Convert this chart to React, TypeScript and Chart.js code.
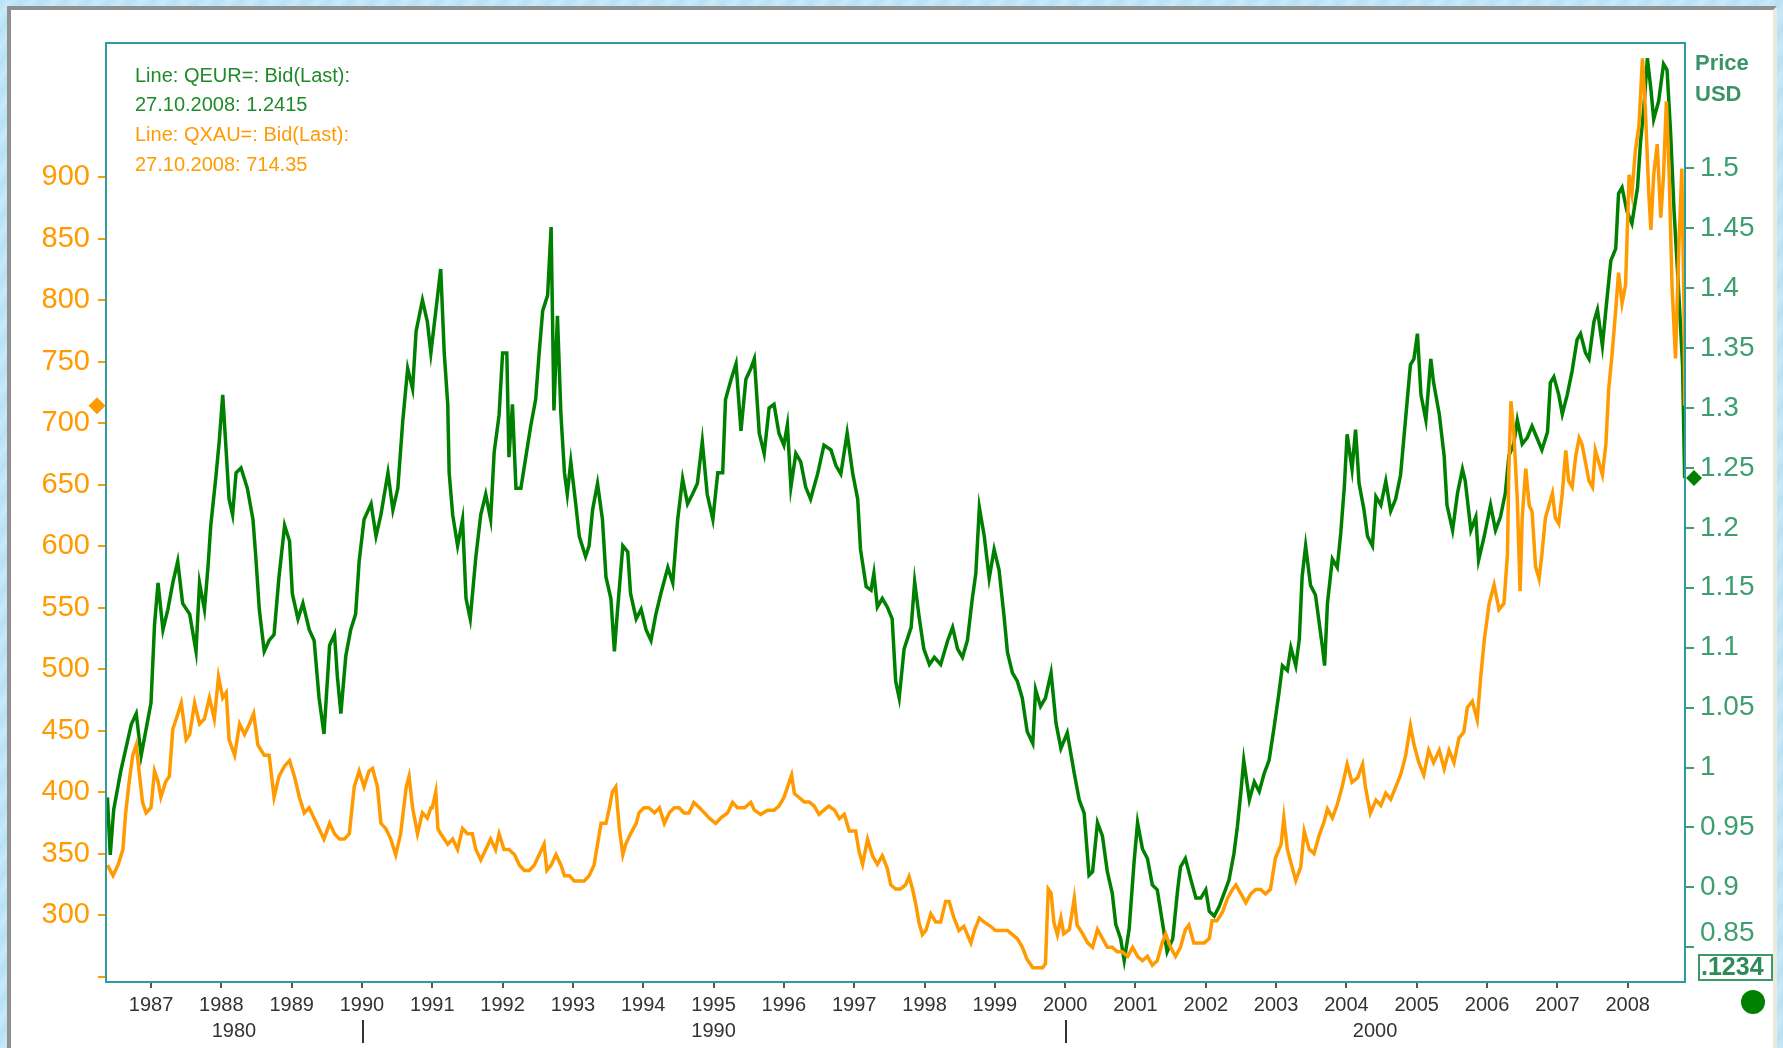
import React, { useEffect, useRef } from 'react';
import { Chart, registerables } from 'chart.js';

Chart.register(...registerables);

// ---------------- data ----------------
const yearTicks = [1987, 1988, 1989, 1990, 1991, 1992, 1993, 1994, 1995, 1996, 1997, 1998, 1999, 2000, 2001, 2002, 2003, 2004, 2005, 2006, 2007, 2008];
const decadeLabels = ['1980', '1990', '2000'];
const decadeStarts = [1980, 1990, 2000];
const goldTicks = [250, 300, 350, 400, 450, 500, 550, 600, 650, 700, 750, 800, 850, 900];
const eurTicks = [0.85, 0.9, 0.95, 1, 1.05, 1.1, 1.15, 1.2, 1.25, 1.3, 1.35, 1.4, 1.45, 1.5];
const legendLines = ['Line: QEUR=: Bid(Last):', '27.10.2008: 1.2415', 'Line: QXAU=: Bid(Last):', '27.10.2008: 714.35'];
const lastEur = 1.2415;
const lastGold = 714.35;

// QEUR= (ECU before 1999), [decimal year, USD]
const eurSeries: [number, number][] = [
  [1986.38, 0.975], [1986.42, 0.927], [1986.47, 0.965], [1986.57, 0.997], [1986.72, 1.036], [1986.79, 1.045], [1986.86, 1.010],
  [1987.00, 1.054], [1987.05, 1.119], [1987.10, 1.154], [1987.17, 1.115], [1987.24, 1.132], [1987.31, 1.154], [1987.38, 1.172], [1987.45, 1.137],
  [1987.55, 1.128], [1987.64, 1.097], [1987.69, 1.154], [1987.76, 1.132], [1987.81, 1.167], [1987.85, 1.202], [1987.92, 1.241], [1987.97, 1.272],
  [1988.02, 1.311], [1988.07, 1.263], [1988.11, 1.224], [1988.16, 1.211], [1988.21, 1.246], [1988.28, 1.250], [1988.37, 1.233], [1988.45, 1.207],
  [1988.49, 1.176], [1988.54, 1.132], [1988.61, 1.097], [1988.68, 1.106], [1988.75, 1.111], [1988.82, 1.159], [1988.90, 1.202], [1988.97, 1.189],
  [1989.01, 1.145], [1989.09, 1.124], [1989.16, 1.137], [1989.25, 1.115], [1989.32, 1.106], [1989.39, 1.058], [1989.46, 1.028], [1989.54, 1.102],
  [1989.61, 1.111], [1989.65, 1.076], [1989.70, 1.045], [1989.77, 1.093], [1989.84, 1.115], [1989.91, 1.128], [1989.96, 1.172],
  [1990.03, 1.207], [1990.13, 1.220], [1990.20, 1.193], [1990.27, 1.211], [1990.37, 1.246], [1990.44, 1.215], [1990.51, 1.233], [1990.58, 1.289],
  [1990.65, 1.333], [1990.72, 1.316], [1990.77, 1.364], [1990.86, 1.390], [1990.93, 1.372], [1990.98, 1.346],
  [1991.05, 1.381], [1991.12, 1.416], [1991.17, 1.346], [1991.22, 1.303], [1991.24, 1.246], [1991.29, 1.211], [1991.36, 1.185], [1991.43, 1.207],
  [1991.48, 1.141], [1991.54, 1.124], [1991.62, 1.176], [1991.69, 1.211], [1991.76, 1.228], [1991.83, 1.207], [1991.88, 1.263], [1991.95, 1.294],
  [1992.00, 1.346], [1992.06, 1.346], [1992.09, 1.259], [1992.14, 1.303], [1992.19, 1.233], [1992.26, 1.233], [1992.33, 1.259], [1992.40, 1.285],
  [1992.47, 1.307], [1992.52, 1.346], [1992.57, 1.381], [1992.64, 1.394], [1992.69, 1.451], [1992.73, 1.298], [1992.78, 1.377], [1992.83, 1.294],
  [1992.88, 1.246], [1992.92, 1.228], [1992.97, 1.255],
  [1993.04, 1.220], [1993.09, 1.193], [1993.18, 1.176], [1993.23, 1.185], [1993.28, 1.215], [1993.35, 1.237], [1993.42, 1.207], [1993.47, 1.159],
  [1993.54, 1.141], [1993.59, 1.097], [1993.63, 1.128], [1993.71, 1.185], [1993.78, 1.180], [1993.82, 1.145], [1993.90, 1.124], [1993.97, 1.132],
  [1994.04, 1.115], [1994.11, 1.106], [1994.18, 1.128], [1994.25, 1.145], [1994.35, 1.167], [1994.42, 1.154], [1994.49, 1.207], [1994.56, 1.241],
  [1994.63, 1.220], [1994.70, 1.228], [1994.77, 1.237], [1994.84, 1.272], [1994.91, 1.228], [1994.99, 1.207],
  [1995.06, 1.246], [1995.13, 1.246], [1995.17, 1.307], [1995.25, 1.324], [1995.32, 1.337], [1995.39, 1.281], [1995.46, 1.324], [1995.53, 1.333],
  [1995.58, 1.341], [1995.65, 1.279], [1995.72, 1.262], [1995.79, 1.300], [1995.86, 1.303], [1995.93, 1.279],
  [1996.00, 1.269], [1996.05, 1.286], [1996.10, 1.234], [1996.17, 1.262], [1996.24, 1.255], [1996.31, 1.234], [1996.38, 1.224], [1996.48, 1.245],
  [1996.57, 1.269], [1996.67, 1.265], [1996.74, 1.252], [1996.81, 1.245], [1996.90, 1.279], [1996.98, 1.245],
  [1997.05, 1.224], [1997.09, 1.182], [1997.17, 1.151], [1997.24, 1.148], [1997.28, 1.162], [1997.33, 1.134], [1997.40, 1.141], [1997.47, 1.134],
  [1997.54, 1.124], [1997.59, 1.072], [1997.64, 1.058], [1997.71, 1.099], [1997.81, 1.117], [1997.86, 1.155], [1997.92, 1.127], [1997.99, 1.099],
  [1998.07, 1.086], [1998.14, 1.092], [1998.23, 1.086], [1998.33, 1.106], [1998.40, 1.117], [1998.47, 1.099], [1998.54, 1.092], [1998.61, 1.106],
  [1998.68, 1.141], [1998.73, 1.162], [1998.78, 1.217], [1998.85, 1.193], [1998.92, 1.158], [1998.99, 1.182],
  [1999.06, 1.165], [1999.13, 1.127], [1999.18, 1.096], [1999.25, 1.079], [1999.32, 1.072], [1999.39, 1.058], [1999.46, 1.030], [1999.54, 1.020],
  [1999.58, 1.065], [1999.65, 1.051], [1999.72, 1.058], [1999.80, 1.079], [1999.87, 1.037], [1999.94, 1.016],
  [2000.03, 1.029], [2000.13, 0.995], [2000.20, 0.973], [2000.27, 0.962], [2000.34, 0.910], [2000.39, 0.913], [2000.46, 0.954], [2000.53, 0.943],
  [2000.60, 0.913], [2000.67, 0.895], [2000.72, 0.869], [2000.79, 0.857], [2000.84, 0.839], [2000.91, 0.865], [2000.98, 0.921],
  [2001.03, 0.954], [2001.10, 0.932], [2001.17, 0.924], [2001.24, 0.902], [2001.31, 0.898], [2001.38, 0.872], [2001.45, 0.846], [2001.53, 0.857],
  [2001.60, 0.898], [2001.64, 0.917], [2001.71, 0.924], [2001.79, 0.906], [2001.86, 0.891], [2001.93, 0.891],
  [2002.00, 0.898], [2002.05, 0.880], [2002.12, 0.876], [2002.19, 0.884], [2002.26, 0.895], [2002.33, 0.906], [2002.40, 0.928], [2002.45, 0.951],
  [2002.50, 0.980], [2002.54, 1.006], [2002.62, 0.973], [2002.69, 0.988], [2002.76, 0.980], [2002.83, 0.995], [2002.90, 1.006], [2002.97, 1.033],
  [2003.04, 1.062], [2003.09, 1.085], [2003.16, 1.081], [2003.21, 1.100], [2003.28, 1.085], [2003.33, 1.107], [2003.37, 1.159], [2003.42, 1.185],
  [2003.49, 1.152], [2003.56, 1.144], [2003.61, 1.122], [2003.66, 1.100], [2003.69, 1.085], [2003.73, 1.137], [2003.80, 1.174], [2003.87, 1.167],
  [2003.92, 1.196], [2003.97, 1.234],
  [2004.01, 1.278], [2004.08, 1.249], [2004.13, 1.282], [2004.18, 1.237], [2004.25, 1.215], [2004.30, 1.193], [2004.37, 1.185], [2004.42, 1.226],
  [2004.49, 1.219], [2004.56, 1.239], [2004.63, 1.214], [2004.70, 1.224], [2004.77, 1.244], [2004.84, 1.290], [2004.91, 1.336], [2004.96, 1.341],
  [2005.01, 1.362], [2005.06, 1.311], [2005.13, 1.290], [2005.20, 1.341], [2005.24, 1.321], [2005.32, 1.295], [2005.39, 1.260], [2005.43, 1.219],
  [2005.51, 1.198], [2005.58, 1.229], [2005.65, 1.249], [2005.69, 1.239], [2005.77, 1.198], [2005.84, 1.209], [2005.88, 1.173], [2005.96, 1.193],
  [2006.05, 1.219], [2006.12, 1.198], [2006.19, 1.209], [2006.26, 1.229], [2006.31, 1.260], [2006.38, 1.270], [2006.43, 1.290], [2006.50, 1.270],
  [2006.57, 1.275], [2006.64, 1.285], [2006.71, 1.275], [2006.78, 1.265], [2006.86, 1.280], [2006.90, 1.321], [2006.95, 1.326],
  [2007.02, 1.311], [2007.07, 1.295], [2007.14, 1.311], [2007.21, 1.331], [2007.28, 1.357], [2007.33, 1.362], [2007.40, 1.346], [2007.45, 1.341],
  [2007.52, 1.372], [2007.57, 1.382], [2007.64, 1.352], [2007.69, 1.382], [2007.76, 1.423], [2007.83, 1.433], [2007.87, 1.479], [2007.92, 1.484],
  [2007.99, 1.464], [2008.06, 1.454], [2008.14, 1.484], [2008.18, 1.520], [2008.23, 1.551], [2008.28, 1.592], [2008.33, 1.566], [2008.37, 1.541],
  [2008.44, 1.556], [2008.51, 1.587], [2008.56, 1.582], [2008.61, 1.530], [2008.66, 1.464], [2008.73, 1.392], [2008.78, 1.336], [2008.81, 1.2415],
];

// QXAU= gold, [decimal year, USD/oz]
const goldSeries: [number, number][] = [
  [1986.38, 340.8], [1986.46, 332.3], [1986.53, 340.8], [1986.60, 353.5], [1986.64, 383.3], [1986.69, 408.8], [1986.74, 430.1], [1986.79, 438.6],
  [1986.83, 417.3], [1986.88, 391.8], [1986.93, 383.3],
  [1987.00, 387.5], [1987.05, 417.3], [1987.10, 408.8], [1987.14, 396.0], [1987.21, 408.8], [1987.26, 413.0], [1987.31, 451.3], [1987.36, 459.8],
  [1987.43, 472.6], [1987.50, 442.8], [1987.55, 447.1], [1987.62, 472.6], [1987.69, 455.6], [1987.76, 459.8], [1987.83, 476.8], [1987.90, 459.8],
  [1987.96, 493.9],
  [1988.02, 476.8], [1988.07, 481.1], [1988.11, 442.8], [1988.19, 430.1], [1988.26, 455.6], [1988.33, 447.1], [1988.40, 455.6], [1988.46, 464.1],
  [1988.52, 438.6], [1988.61, 430.1], [1988.68, 430.1], [1988.75, 396.0], [1988.82, 413.0], [1988.90, 421.5], [1988.97, 425.8],
  [1989.04, 413.0], [1989.11, 396.0], [1989.18, 383.3], [1989.25, 387.5], [1989.32, 379.0], [1989.39, 370.5], [1989.46, 362.0], [1989.54, 374.8],
  [1989.61, 366.3], [1989.68, 362.0], [1989.75, 362.0], [1989.82, 366.3], [1989.89, 404.5], [1989.96, 417.3],
  [1990.03, 404.5], [1990.10, 417.3], [1990.15, 419.4], [1990.22, 404.5], [1990.27, 374.8], [1990.34, 370.5], [1990.41, 362.0], [1990.48, 349.2],
  [1990.55, 366.3], [1990.63, 404.5], [1990.67, 413.0], [1990.72, 387.5], [1990.79, 366.3], [1990.86, 383.3], [1990.93, 379.0], [1990.98, 387.5],
  [1991.00, 387.5], [1991.05, 400.3], [1991.08, 370.5], [1991.12, 366.3], [1991.17, 362.0], [1991.22, 357.8], [1991.29, 362.0], [1991.36, 353.5],
  [1991.43, 370.5], [1991.50, 366.3], [1991.57, 366.3], [1991.62, 353.5], [1991.69, 345.0], [1991.76, 353.5], [1991.83, 362.0], [1991.90, 353.5],
  [1991.95, 366.3],
  [1992.02, 353.5], [1992.09, 353.5], [1992.17, 349.3], [1992.24, 340.8], [1992.31, 336.5], [1992.38, 336.5], [1992.45, 340.8], [1992.52, 349.3],
  [1992.59, 357.8], [1992.63, 336.5], [1992.69, 340.8], [1992.76, 349.3], [1992.83, 340.8], [1992.88, 332.2], [1992.95, 332.2],
  [1993.02, 328.0], [1993.09, 328.0], [1993.16, 328.0], [1993.23, 332.2], [1993.30, 340.8], [1993.35, 357.8], [1993.40, 374.8], [1993.47, 374.8],
  [1993.52, 387.5], [1993.56, 400.3], [1993.61, 404.5], [1993.66, 370.5], [1993.71, 349.3], [1993.75, 357.8], [1993.82, 366.3], [1993.90, 374.8],
  [1993.94, 383.3],
  [1994.01, 387.5], [1994.08, 387.5], [1994.16, 383.3], [1994.23, 387.5], [1994.30, 374.8], [1994.37, 383.3], [1994.44, 387.5], [1994.51, 387.5],
  [1994.58, 383.3], [1994.65, 383.3], [1994.72, 391.8], [1994.80, 387.5], [1994.87, 383.3], [1994.94, 379.0],
  [1995.03, 374.8], [1995.10, 379.0], [1995.20, 383.3], [1995.27, 391.8], [1995.34, 387.5], [1995.44, 387.5], [1995.53, 391.8], [1995.58, 385.5],
  [1995.67, 382.1], [1995.77, 385.5], [1995.86, 385.5], [1995.93, 388.9],
  [1996.00, 395.6], [1996.08, 409.1], [1996.11, 414.1], [1996.15, 399.0], [1996.22, 395.6], [1996.29, 392.2], [1996.36, 392.2], [1996.43, 388.9],
  [1996.50, 382.1], [1996.57, 385.5], [1996.64, 388.9], [1996.72, 385.5], [1996.79, 378.7], [1996.86, 382.1], [1996.93, 368.6],
  [1997.02, 368.6], [1997.07, 351.8], [1997.12, 341.6], [1997.19, 361.9], [1997.26, 348.4], [1997.33, 341.6], [1997.40, 348.4], [1997.47, 338.3],
  [1997.52, 324.8], [1997.59, 321.4], [1997.66, 321.4], [1997.73, 324.8], [1997.78, 331.5], [1997.83, 321.4], [1997.88, 307.9], [1997.92, 294.5],
  [1997.97, 284.3],
  [1998.02, 287.7], [1998.09, 301.2], [1998.16, 294.5], [1998.23, 294.5], [1998.30, 311.3], [1998.35, 311.3], [1998.42, 297.8], [1998.49, 287.7],
  [1998.56, 291.1], [1998.66, 277.6], [1998.71, 287.7], [1998.78, 297.8], [1998.85, 294.5], [1998.94, 291.1],
  [1999.01, 287.7], [1999.09, 287.7], [1999.18, 287.7], [1999.25, 284.3], [1999.32, 281.0], [1999.39, 274.2], [1999.46, 264.1], [1999.54, 257.4],
  [1999.61, 257.4], [1999.68, 257.4], [1999.72, 260.7], [1999.76, 321.4], [1999.80, 318.1], [1999.84, 294.5], [1999.89, 284.3], [1999.94, 297.8],
  [1999.98, 284.9],
  [2000.06, 288.5], [2000.13, 313.9], [2000.17, 292.1], [2000.25, 284.9], [2000.32, 277.6], [2000.39, 274.0], [2000.46, 288.5], [2000.53, 281.2],
  [2000.60, 274.0], [2000.67, 274.0], [2000.74, 270.3], [2000.81, 270.3], [2000.89, 266.7], [2000.96, 274.0],
  [2001.03, 266.7], [2001.10, 263.1], [2001.17, 266.7], [2001.24, 259.4], [2001.31, 263.1], [2001.38, 277.6], [2001.43, 284.9], [2001.50, 274.0],
  [2001.57, 266.7], [2001.64, 274.0], [2001.71, 288.5], [2001.76, 292.1], [2001.83, 277.6], [2001.90, 277.6], [2001.98, 277.6],
  [2002.05, 281.2], [2002.09, 295.7], [2002.16, 295.7], [2002.24, 303.0], [2002.31, 313.9], [2002.38, 321.1], [2002.43, 324.8], [2002.50, 317.5],
  [2002.57, 310.3], [2002.64, 317.5], [2002.71, 321.1], [2002.78, 321.1], [2002.85, 317.5], [2002.92, 321.1], [2002.99, 346.6],
  [2003.07, 357.5], [2003.11, 379.2], [2003.16, 353.8], [2003.21, 342.9], [2003.28, 328.4], [2003.35, 339.3], [2003.40, 368.3], [2003.47, 353.8],
  [2003.54, 350.2], [2003.61, 364.7], [2003.68, 375.6], [2003.73, 386.5], [2003.80, 379.2], [2003.87, 390.1], [2003.94, 404.6],
  [2004.01, 422.8], [2004.08, 408.3], [2004.16, 411.9], [2004.23, 422.8], [2004.27, 404.6], [2004.34, 382.8], [2004.42, 393.7], [2004.49, 389.3],
  [2004.56, 399.3], [2004.63, 394.3], [2004.70, 404.3], [2004.77, 414.2], [2004.84, 429.2], [2004.91, 454.1], [2004.96, 439.1],
  [2005.03, 424.2], [2005.10, 414.2], [2005.17, 434.2], [2005.24, 424.2], [2005.32, 434.2], [2005.39, 419.2], [2005.46, 434.2], [2005.53, 424.2],
  [2005.60, 444.1], [2005.67, 449.1], [2005.72, 469.0], [2005.79, 474.0], [2005.86, 459.0], [2005.91, 493.9], [2005.96, 523.8],
  [2006.03, 553.6], [2006.10, 568.6], [2006.17, 548.7], [2006.24, 553.6], [2006.29, 593.5], [2006.31, 663.2], [2006.34, 718.0], [2006.38, 693.1],
  [2006.43, 638.3], [2006.47, 563.6], [2006.50, 623.3], [2006.55, 663.2], [2006.60, 633.3], [2006.64, 628.3], [2006.69, 583.5], [2006.74, 573.6],
  [2006.78, 593.5], [2006.83, 623.3], [2006.88, 633.3], [2006.93, 643.3], [2006.97, 623.3],
  [2007.02, 618.4], [2007.07, 643.3], [2007.12, 678.1], [2007.16, 653.2], [2007.21, 648.2], [2007.26, 673.1], [2007.31, 688.1], [2007.35, 683.1],
  [2007.40, 668.2], [2007.45, 653.2], [2007.50, 648.2], [2007.54, 678.1], [2007.59, 668.2], [2007.64, 658.2], [2007.69, 683.1], [2007.73, 727.9],
  [2007.78, 757.8], [2007.83, 792.6], [2007.87, 822.5], [2007.92, 797.6], [2007.97, 812.6],
  [2008.02, 902.2], [2008.06, 887.2], [2008.11, 922.1], [2008.16, 942.0], [2008.21, 996.8], [2008.25, 956.9], [2008.30, 887.2], [2008.33, 857.4],
  [2008.37, 902.2], [2008.42, 927.1], [2008.47, 867.3], [2008.51, 902.2], [2008.55, 961.8], [2008.59, 902.2], [2008.63, 812.6], [2008.68, 752.8],
  [2008.73, 847.4], [2008.77, 907.2], [2008.80, 797.6], [2008.81, 714.35],
];

// ---------------- styling ----------------
const GREEN = '#008000';
const ORANGE = '#FF9B00';
const TEAL = '#2F9C9C';
const AXIS_GREEN = '#3E9E70';
const LEGEND_GREEN = '#1F8A2A';
const FONT = "'Liberation Sans', Arial, sans-serif";

const X_MIN = 1986.36;
const X_MAX = 2008.815;
const GOLD_MIN = 245.8;
const GOLD_MAX = 1009.3;
const EUR_MIN = 0.821;
const EUR_MAX = 1.6046;

function diamond(ctx: CanvasRenderingContext2D, cx: number, cy: number, r: number, color: string) {
  ctx.beginPath();
  ctx.moveTo(cx, cy - r);
  ctx.lineTo(cx + r, cy);
  ctx.lineTo(cx, cy + r);
  ctx.lineTo(cx - r, cy);
  ctx.closePath();
  ctx.fillStyle = color;
  ctx.fill();
}

const overlayPlugin = {
  id: 'overlay',
  afterDatasetsDraw(chart: any) {
    const { ctx, chartArea: a, scales } = chart;
    const xS = scales.x;
    const gS = scales.yL;
    const eS = scales.yR;
    ctx.save();

    // plot frame
    ctx.strokeStyle = TEAL;
    ctx.lineWidth = 2;
    ctx.strokeRect(a.left, a.top, a.right - a.left, a.bottom - a.top);

    // in-plot legend text
    ctx.font = `20px ${FONT}`;
    ctx.textAlign = 'left';
    ctx.textBaseline = 'middle';
    const legendColors = [LEGEND_GREEN, LEGEND_GREEN, ORANGE, ORANGE];
    legendLines.forEach((t, i) => {
      ctx.fillStyle = legendColors[i];
      ctx.fillText(t, a.left + 29, a.top + 33 + i * 29.7);
    });

    // Price USD
    ctx.font = `bold 22px ${FONT}`;
    ctx.fillStyle = '#3A9468';
    ctx.fillText('Price', a.right + 10, 64);
    ctx.fillText('USD', a.right + 10, 95);

    // last value markers
    diamond(ctx, a.left - 9, gS.getPixelForValue(lastGold), 8.5, ORANGE);
    diamond(ctx, a.right + 9, eS.getPixelForValue(lastEur), 8, GREEN);

    // lowest right label (lifted above its tick)
    ctx.font = `28px ${FONT}`;
    ctx.fillStyle = AXIS_GREEN;
    ctx.fillText('0.85', a.right + 15, eS.getPixelForValue(0.85) - 14);

    // .1234 box
    ctx.strokeStyle = '#3A9A6A';
    ctx.lineWidth = 2;
    ctx.strokeRect(a.right + 14, a.bottom - 27, 73, 25);
    ctx.font = `bold 25px ${FONT}`;
    ctx.fillStyle = '#2E8B57';
    ctx.fillText('.1234', a.right + 16, a.bottom - 14);

    // green dot
    ctx.beginPath();
    ctx.arc(a.right + 68, a.bottom + 20, 12, 0, Math.PI * 2);
    ctx.fillStyle = GREEN;
    ctx.fill();

    // decade labels
    ctx.font = `20px ${FONT}`;
    ctx.fillStyle = '#333333';
    ctx.textAlign = 'center';
    decadeLabels.forEach((lab, i) => {
      const lo = Math.max(decadeStarts[i], X_MIN);
      const hi = Math.min(decadeStarts[i] + 10, X_MAX);
      ctx.fillText(lab, xS.getPixelForValue((lo + hi) / 2), a.bottom + 49);
    });
    ctx.strokeStyle = '#333333';
    ctx.lineWidth = 2;
    decadeStarts.forEach((d) => {
      if (d <= X_MIN || d >= X_MAX) return;
      const px = Math.round(xS.getPixelForValue(d)) + 1;
      ctx.beginPath();
      ctx.moveTo(px, a.bottom + 38);
      ctx.lineTo(px, a.bottom + 61);
      ctx.stroke();
    });

    ctx.restore();
  },
};

export default function App() {
  const ref = useRef<HTMLCanvasElement>(null);

  useEffect(() => {
    const canvas = ref.current;
    if (!canvas) return;
    const chart = new Chart(canvas, {
      type: 'line',
      data: {
        datasets: [
          {
            label: 'QXAU=',
            data: goldSeries.map(([x, y]) => ({ x, y })),
            yAxisID: 'yL',
            borderColor: ORANGE,
            backgroundColor: ORANGE,
            borderWidth: 3.5,
            pointRadius: 0,
            tension: 0,
          },
          {
            label: 'QEUR=',
            data: eurSeries.map(([x, y]) => ({ x, y })),
            yAxisID: 'yR',
            borderColor: GREEN,
            backgroundColor: GREEN,
            borderWidth: 3.5,
            pointRadius: 0,
            tension: 0,
          },
        ],
      },
      options: {
        responsive: false,
        animation: false,
        layout: { padding: { top: 43, left: 0, right: 0, bottom: 0 } },
        plugins: { legend: { display: false }, tooltip: { enabled: false } },
        scales: {
          x: {
            type: 'linear',
            min: X_MIN,
            max: X_MAX,
            afterBuildTicks: (axis: any) => {
              axis.ticks = yearTicks.map((v) => ({ value: v }));
            },
            afterFit: (axis: any) => {
              axis.height = 66;
            },
            ticks: {
              autoSkip: false,
              maxRotation: 0,
              color: '#333333',
              font: { family: FONT, size: 20 },
              padding: 5,
              callback: (v: any) => String(v),
            },
            grid: { drawOnChartArea: false, drawTicks: true, tickLength: 6, color: '#555555', lineWidth: 2 },
            border: { display: false },
          },
          yL: {
            type: 'linear',
            position: 'left',
            min: GOLD_MIN,
            max: GOLD_MAX,
            afterBuildTicks: (axis: any) => {
              axis.ticks = goldTicks.map((v) => ({ value: v }));
            },
            afterFit: (axis: any) => {
              axis.width = 106;
            },
            ticks: {
              autoSkip: false,
              color: ORANGE,
              font: { family: FONT, size: 29 },
              padding: 8,
              callback: (v: any) => (v === goldTicks[0] ? '' : String(v)),
            },
            grid: { drawOnChartArea: false, drawTicks: true, tickLength: 8, color: ORANGE, lineWidth: 2 },
            border: { display: false },
          },
          yR: {
            type: 'linear',
            position: 'right',
            min: EUR_MIN,
            max: EUR_MAX,
            afterBuildTicks: (axis: any) => {
              axis.ticks = eurTicks.map((v) => ({ value: v }));
            },
            afterFit: (axis: any) => {
              axis.width = 98;
            },
            ticks: {
              autoSkip: false,
              color: AXIS_GREEN,
              font: { family: FONT, size: 28 },
              padding: 6,
              callback: (v: any) => (v === eurTicks[0] ? '' : String(v)),
            },
            grid: { drawOnChartArea: false, drawTicks: true, tickLength: 9, color: AXIS_GREEN, lineWidth: 2 },
            border: { display: false },
          },
        },
      },
      plugins: [overlayPlugin],
    } as any);
    return () => chart.destroy();
  }, []);

  return (
    <div
      style={{
        position: 'fixed',
        left: 0,
        top: 0,
        width: 1783,
        height: 1048,
        overflow: 'hidden',
        background: 'repeating-linear-gradient(125deg, #b8e0f4 0px, #c8e9f9 9px, #b8e0f4 18px)',
      }}
    >
      <div
        style={{
          position: 'absolute',
          left: 7,
          top: 6,
          width: 1770,
          height: 1100,
          boxSizing: 'border-box',
          background: '#ffffff',
          borderLeft: '4px solid #8f8f8f',
          borderTop: '4px solid #8f8f8f',
          borderRight: '4px solid #ECE9DC',
        }}
      />
      <canvas
        ref={ref}
        width={1783}
        height={1048}
        style={{ position: 'absolute', left: 0, top: 0, width: 1783, height: 1048 }}
      />
    </div>
  );
}
